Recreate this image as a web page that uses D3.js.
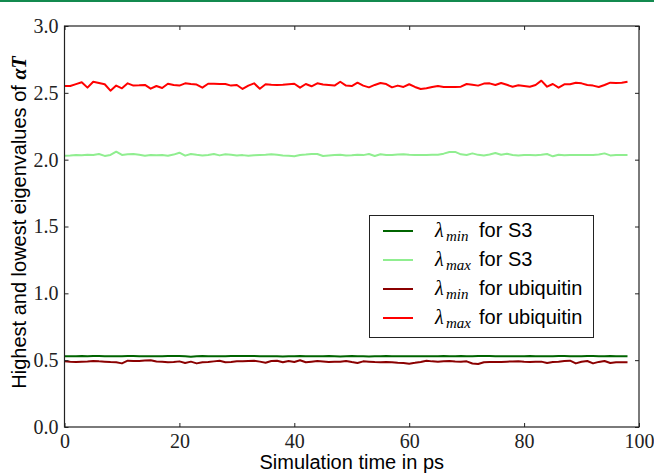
<!DOCTYPE html>
<html><head><meta charset="utf-8">
<script src="https://cdn.jsdelivr.net/npm/d3@7"></script>
<style>body{margin:0;background:#fff}svg{display:block}</style>
</head><body>
<svg id="c" width="654" height="474"></svg>
<script>
const time = d3.range(0, 99); // ps, one sample per ps
const xTicks = [0, 20, 40, 60, 80, 100];
const yTicks = [0.0, 0.5, 1.0, 1.5, 2.0, 2.5, 3.0];

const minS3 = [
0.529,0.530,0.530,0.531,0.530,0.531,0.531,0.530,0.530,0.529,
0.530,0.531,0.531,0.530,0.530,0.529,0.530,0.530,0.531,0.532,
0.531,0.530,0.525,0.530,0.531,0.530,0.529,0.529,0.530,0.531,
0.531,0.532,0.532,0.531,0.530,0.530,0.529,0.530,0.527,0.530,
0.530,0.531,0.530,0.529,0.530,0.530,0.531,0.530,0.528,0.530,
0.531,0.530,0.529,0.528,0.529,0.530,0.531,0.530,0.530,0.529,
0.529,0.530,0.530,0.530,0.529,0.530,0.531,0.530,0.530,0.531,
0.530,0.530,0.531,0.532,0.531,0.530,0.530,0.529,0.530,0.530,
0.530,0.531,0.530,0.529,0.530,0.530,0.531,0.531,0.530,0.530,
0.530,0.531,0.531,0.530,0.530,0.531,0.530,0.530,0.529];

const maxS3 = [
2.030,2.031,2.034,2.033,2.036,2.035,2.042,2.028,2.035,2.060,
2.035,2.040,2.042,2.037,2.030,2.035,2.033,2.035,2.030,2.038,
2.052,2.030,2.042,2.036,2.032,2.035,2.042,2.032,2.040,2.036,
2.032,2.034,2.030,2.033,2.035,2.037,2.040,2.036,2.032,2.030,
2.025,2.035,2.038,2.042,2.042,2.027,2.031,2.035,2.036,2.032,
2.033,2.037,2.034,2.042,2.027,2.040,2.035,2.035,2.038,2.040,
2.036,2.035,2.034,2.035,2.036,2.037,2.045,2.057,2.058,2.040,
2.035,2.047,2.036,2.032,2.038,2.050,2.037,2.045,2.035,2.032,
2.035,2.034,2.033,2.037,2.042,2.025,2.037,2.033,2.035,2.034,
2.035,2.034,2.035,2.038,2.047,2.032,2.035,2.034,2.035];

const minUbq = [
0.491,0.488,0.486,0.489,0.490,0.494,0.491,0.489,0.486,0.484,
0.476,0.496,0.494,0.494,0.497,0.500,0.490,0.489,0.484,0.486,
0.491,0.479,0.489,0.476,0.485,0.486,0.491,0.496,0.484,0.487,
0.491,0.491,0.494,0.496,0.489,0.481,0.494,0.496,0.484,0.493,
0.486,0.499,0.484,0.489,0.494,0.490,0.486,0.488,0.489,0.494,
0.486,0.479,0.491,0.489,0.486,0.484,0.486,0.485,0.481,0.479,
0.474,0.480,0.487,0.496,0.491,0.489,0.492,0.494,0.490,0.489,
0.491,0.475,0.471,0.484,0.486,0.486,0.487,0.489,0.490,0.491,
0.488,0.486,0.488,0.489,0.479,0.486,0.488,0.494,0.496,0.476,
0.488,0.494,0.476,0.487,0.494,0.479,0.484,0.484,0.484];

const maxUbq = [
2.551,2.551,2.565,2.579,2.539,2.583,2.574,2.564,2.516,2.554,
2.534,2.571,2.554,2.556,2.559,2.531,2.551,2.536,2.568,2.559,
2.554,2.571,2.566,2.562,2.539,2.568,2.568,2.567,2.566,2.554,
2.559,2.529,2.554,2.571,2.531,2.564,2.561,2.559,2.561,2.565,
2.568,2.539,2.566,2.549,2.571,2.562,2.558,2.554,2.583,2.554,
2.551,2.576,2.554,2.541,2.559,2.574,2.566,2.541,2.554,2.544,
2.564,2.544,2.529,2.534,2.543,2.551,2.544,2.544,2.543,2.546,
2.566,2.561,2.554,2.569,2.571,2.559,2.574,2.560,2.546,2.556,
2.551,2.546,2.559,2.591,2.546,2.566,2.539,2.564,2.564,2.576,
2.571,2.559,2.554,2.544,2.559,2.576,2.574,2.576,2.583];

const seriesNames = ["min|S3", "max|S3", "min|ubiquitin", "max|ubiquitin"];
const seriesColors = ["#006400", "#90ee90", "#8b0000", "#ff0000"];
const seriesValues = [minS3, maxS3, minUbq, maxUbq];

const svg = d3.select("#c");
const L = 64.5, R = 639, T = 26, B = 427;
const x = d3.scaleLinear().domain([0, 100]).range([L, R]);
const y = d3.scaleLinear().domain([0, 3]).range([B, T]);

svg.append("rect").attr("width", 654).attr("height", 474).attr("fill", "#fff");
svg.append("rect").attr("x", 0).attr("y", 0).attr("width", 654).attr("height", 2).attr("fill", "#138a4f");

const serif = "'Liberation Serif', 'DejaVu Serif', serif";
const sans = "'Liberation Sans', Arial, sans-serif";

// lines
const line = d3.line().x((d, i) => x(time[i])).y(d => y(d));
seriesValues.forEach((vals, k) => {
  svg.append("path").datum(vals).attr("d", line)
    .attr("fill", "none").attr("stroke", seriesColors[k]).attr("stroke-width", 2)
    .attr("stroke-linejoin", "round");
});

// axes (inward ticks, all sides)
const axB = d3.axisBottom(x).tickValues(xTicks).tickSize(-4).tickPadding(7).tickFormat(d3.format("d"));
const axT = d3.axisTop(x).tickValues(xTicks).tickSize(-4).tickFormat("");
const axLft = d3.axisLeft(y).tickValues(yTicks).tickSize(-4).tickPadding(6).tickFormat(d3.format(".1f"));
const axRt = d3.axisRight(y).tickValues(yTicks).tickSize(-4).tickFormat("");
function style(g) {
  g.select(".domain").remove();
  g.selectAll(".tick line").attr("stroke", "#222").attr("stroke-width", 1);
  g.selectAll(".tick text").attr("font-family", serif).attr("font-size", 20).attr("fill", "#222");
}
svg.append("g").attr("transform", `translate(0,${B})`).call(axB).call(style)
  .selectAll(".tick text").attr("dy", "0.71em");
svg.append("g").attr("transform", `translate(0,${T})`).call(axT).call(style);
svg.append("g").attr("transform", `translate(${L},0)`).call(axLft).call(style);
svg.append("g").attr("transform", `translate(${R},0)`).call(axRt).call(style);

svg.append("rect").attr("x", L).attr("y", T).attr("width", R - L).attr("height", B - T)
  .attr("fill", "none").attr("stroke", "#222").attr("stroke-width", 1.2);

// axis titles
svg.append("text").attr("x", (L + R) / 2).attr("y", 469).attr("text-anchor", "middle")
  .attr("font-family", sans).attr("font-size", 20).attr("fill", "#000").text("Simulation time in ps");

const yl = svg.append("text").attr("transform", `translate(26,${(T + B) / 2 - 4}) rotate(-90)`)
  .attr("text-anchor", "middle").attr("font-family", sans).attr("font-size", 20).attr("fill", "#000");
yl.append("tspan").text("Highest and lowest eigenvalues of ");
yl.append("tspan").attr("font-family", serif).attr("font-weight", "bold").attr("font-style", "italic").text("αT");

// legend
const lg = svg.append("g");
lg.append("rect").attr("x", 369.5).attr("y", 215.5).attr("width", 224).attr("height", 122)
  .attr("fill", "#fff").attr("stroke", "#222").attr("stroke-width", 1);
seriesNames.forEach((nm, k) => {
  const [sub, who] = nm.split("|");
  const yy = 231 + k * 29;
  lg.append("line").attr("x1", 383).attr("x2", 413).attr("y1", yy).attr("y2", yy)
    .attr("stroke", seriesColors[k]).attr("stroke-width", 2);
  const t = lg.append("text").attr("y", yy + 6).attr("fill", "#000");
  t.append("tspan").attr("x", 435).attr("font-family", serif).attr("font-style", "italic").attr("font-size", 20).text("λ");
  t.append("tspan").attr("x", 446).attr("font-family", serif).attr("font-style", "italic").attr("font-size", 15)
    .attr("dy", 4).text(sub);
  t.append("tspan").attr("x", 479).attr("font-family", sans).attr("font-size", 20).attr("dy", -4).text("for " + who);
});
</script>
</body></html>
